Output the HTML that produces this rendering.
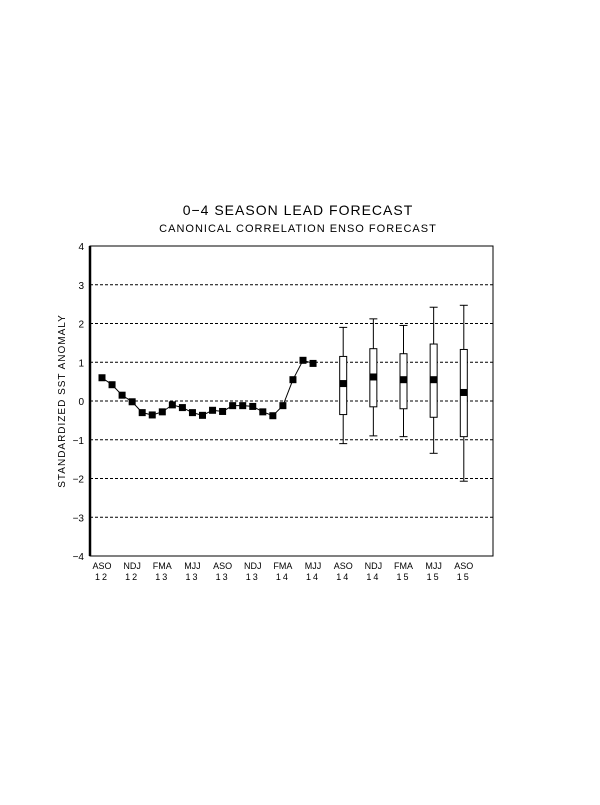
<!DOCTYPE html>
<html><head><meta charset="utf-8"><style>
body{margin:0;background:#fff}
svg text{font-family:"Liberation Sans",sans-serif;fill:#000}
</style></head><body>
<svg width="600" height="800" id="c">
<text x="298" y="215" font-size="14" text-anchor="middle" letter-spacing="1">0−4 SEASON LEAD FORECAST</text>
<text x="298" y="232" font-size="11" text-anchor="middle" letter-spacing="1">CANONICAL CORRELATION ENSO FORECAST</text>
<text transform="translate(65,401) rotate(-90)" font-size="10" text-anchor="middle" letter-spacing="1">STANDARDIZED SST ANOMALY</text>
<g id="grid"></g><g id="marks"></g>
<rect x="90" y="246" width="403" height="310" fill="none" stroke="#000" stroke-width="1"/>
<line x1="90" y1="246" x2="90" y2="556" stroke="#000" stroke-width="2.5"/>
</svg>
<script>
const obsValues=[0.6,0.42,0.15,-0.02,-0.3,-0.36,-0.28,-0.1,-0.17,-0.3,-0.37,-0.24,-0.27,-0.12,-0.12,-0.14,-0.28,-0.38,-0.12,0.55,1.05,0.97];
const fcMonthIndex=[24,27,30,33,36];
const fcLow=[-1.1,-0.9,-0.92,-1.35,-2.07];
const fcQ1=[-0.35,-0.15,-0.2,-0.42,-0.92];
const fcMid=[0.45,0.62,0.55,0.55,0.22];
const fcQ3=[1.15,1.35,1.22,1.47,1.33];
const fcHigh=[1.9,2.12,1.95,2.42,2.47];
const yTicks=[-4,-3,-2,-1,0,1,2,3,4];
const seasonLabels=["ASO","NDJ","FMA","MJJ","ASO","NDJ","FMA","MJJ","ASO","NDJ","FMA","MJJ","ASO"];
const yearLabels=["12","12","13","13","13","13","14","14","14","14","15","15","15"];
const NS="http://www.w3.org/2000/svg";
const y=v=>401-v*38.75;
const x=i=>102+i*10.05;
const svg=document.getElementById('c'),grid=document.getElementById('grid'),marks=document.getElementById('marks');
function mk(tag,at,parent){const e=document.createElementNS(NS,tag);for(const k in at)e.setAttribute(k,at[k]);(parent||svg).appendChild(e);return e;}
yTicks.forEach(t=>{
 if(t>-4&&t<4){const l=mk('line',{x1:90,x2:493,y1:y(t),y2:y(t),stroke:'#000','stroke-dasharray':'3,2','stroke-width':1},grid);
 
 }
 const tx=mk('text',{x:84,y:y(t)+4,'font-size':10,'text-anchor':'end'});tx.textContent=t<0?'−'+(-t):String(t);
 
 
});
seasonLabels.forEach((s,i)=>{
 const cx=x(i*3);
 const a=mk('text',{x:cx,y:569,'font-size':9,'text-anchor':'middle'});a.textContent=s;
 
 
 const b=mk('text',{x:cx,y:580,'font-size':9,'text-anchor':'middle','letter-spacing':2});b.textContent=yearLabels[i];
 
 
});
const pl=mk('polyline',{points:obsValues.map((v,i)=>x(i)+','+y(v)).join(' '),fill:'none',stroke:'#000','stroke-width':1},marks);


obsValues.forEach((v,i)=>{const r=mk('rect',{x:x(i)-3.5,y:y(v)-3.5,width:7,height:7,fill:'#000'},marks);
 
 });
fcMid.forEach((m,k)=>{
 const cx=x(fcMonthIndex[k]);
 const g=mk('g',{},marks);
 
 
 mk('line',{x1:cx,x2:cx,y1:y(fcHigh[k]),y2:y(fcLow[k]),stroke:'#000'},g);
 mk('line',{x1:cx-4,x2:cx+4,y1:y(fcHigh[k]),y2:y(fcHigh[k]),stroke:'#000'},g);
 mk('line',{x1:cx-4,x2:cx+4,y1:y(fcLow[k]),y2:y(fcLow[k]),stroke:'#000'},g);
 mk('rect',{x:cx-3.5,y:y(fcQ3[k]),width:7,height:y(fcQ1[k])-y(fcQ3[k]),fill:'#fff',stroke:'#000'},g);
 mk('rect',{x:cx-3.5,y:y(m)-3.5,width:7,height:7,fill:'#000'},g);
});
</script>
</body></html>
